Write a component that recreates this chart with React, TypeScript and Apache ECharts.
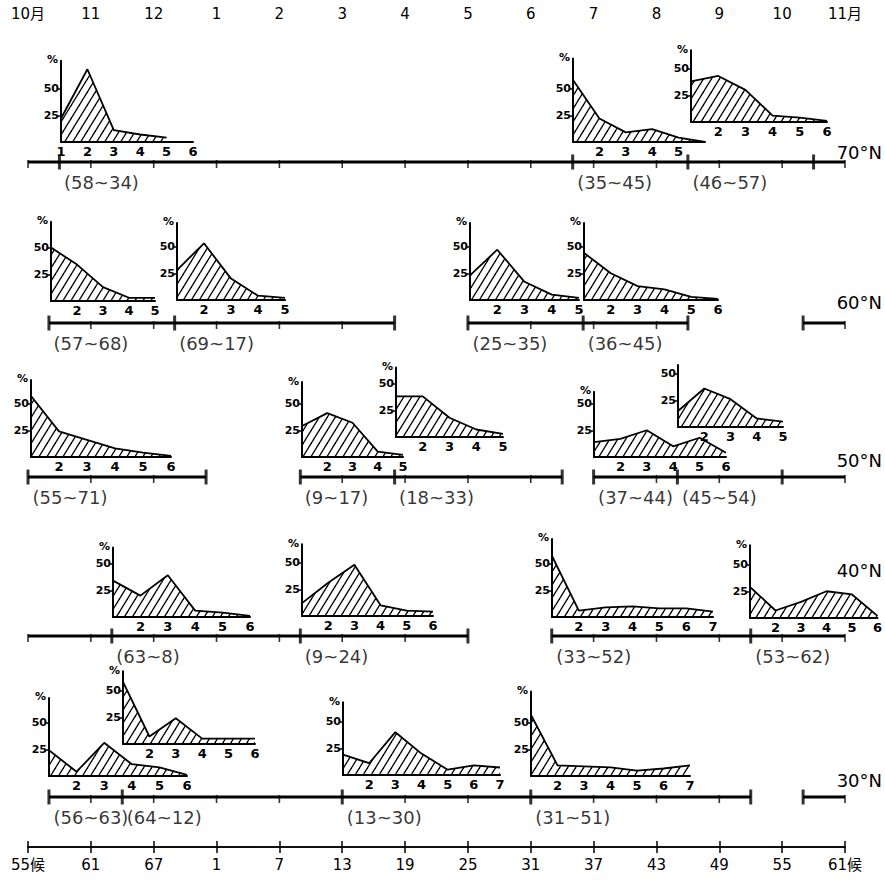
import React, { useEffect, useRef } from 'react';
import * as echarts from 'echarts';

// ---------- axis labels ----------
const monthLabels = ['10月', '11', '12', '1', '2', '3', '4', '5', '6', '7', '8', '9', '10', '11月'];
const pentadLabels = ['55候', '61', '67', '1', '7', '13', '19', '25', '31', '37', '43', '49', '55', '61候'];
const axisMin = 55;
const axisMax = 133;
const pentadStep = 6;

// ---------- timelines (continuous pentad index; next-year pentads are +72) ----------
const lat70Lines = [[55, 133]];
const lat70Brackets = [58, 107, 118, 130];
const lat70Ranges: [number, string][] = [[58, '(58~34)'], [107, '(35~45)'], [118, '(46~57)']];

const lat60Lines = [[57, 90], [97, 118], [129, 133]];
const lat60Brackets = [57, 69, 90, 97, 108, 118, 129];
const lat60Ranges: [number, string][] = [[57, '(57~68)'], [69, '(69~17)'], [97, '(25~35)'], [108, '(36~45)']];

const lat50Lines = [[55, 72], [81, 106], [109, 133]];
const lat50Brackets = [55, 72, 81, 90, 106, 109, 117, 127];
const lat50Ranges: [number, string][] = [[55, '(55~71)'], [81, '(9~17)'], [90, '(18~33)'], [109, '(37~44)'], [117, '(45~54)']];

const lat40Lines = [[55, 97], [105, 133]];
const lat40Brackets = [63, 81, 97, 105, 124];
const lat40Ranges: [number, string][] = [[63, '(63~8)'], [81, '(9~24)'], [105, '(33~52)'], [124, '(53~62)']];

const lat30Lines = [[57, 124], [129, 133]];
const lat30Brackets = [57, 64, 85, 103, 124, 129];
const lat30Ranges: [number, string][] = [[57, '(56~63)'], [64, '(64~12)'], [85, '(13~30)'], [103, '(31~51)']];

const latNames = ['70°N', '60°N', '50°N', '40°N', '30°N'];

// ---------- frequency distributions (%) ----------
const f70_58_34 = [22, 68, 11, 7, 4];
const f70_35_45 = [58, 22, 9, 12, 4, 0];
const f70_46_57 = [38, 43, 30, 6, 4, 1];
const f60_57_68 = [50, 34, 13, 3, 3];
const f60_69_17 = [28, 53, 20, 4, 2];
const f60_25_35 = [23, 47, 17, 5, 2];
const f60_36_45 = [44, 25, 13, 10, 3, 1];
const f50_55_71 = [57, 24, 16, 8, 4, 1];
const f50_9_17 = [29, 41, 32, 5, 2];
const f50_18_33 = [38, 38, 18, 7, 3];
const f50_37_44 = [14, 17, 25, 10, 18, 4];
const f50_45_54 = [15, 36, 26, 8, 5];
const f40_63_8 = [34, 20, 39, 6, 4, 1];
const f40_9_24 = [12, 31, 48, 10, 5, 4];
const f40_33_52 = [57, 6, 9, 10, 8, 8, 5];
const f40_53_62 = [29, 7, 15, 25, 22, 2];
const f30_56_63 = [24, 4, 31, 11, 8, 1];
const f30_64_12 = [58, 7, 24, 5, 5, 5];
const f30_13_30 = [19, 11, 40, 20, 5, 9, 7];
const f30_31_51 = [57, 10, 9, 8, 5, 7, 10];

const xl6all = ['1', '2', '3', '4', '5', '6'];
const xl5 = ['', '2', '3', '4', '5'];
const xl6 = ['', '2', '3', '4', '5', '6'];
const xl6b = ['', '2', '3', '4', '5', ''];
const xl7 = ['', '2', '3', '4', '5', '6', '7'];

const small = [
  { d: f70_58_34, l: xl6all, pct: true },
  { d: f70_35_45, l: xl6b, pct: true },
  { d: f70_46_57, l: xl6, pct: true },
  { d: f60_57_68, l: xl5, pct: true },
  { d: f60_69_17, l: xl5, pct: true },
  { d: f60_25_35, l: xl5, pct: true },
  { d: f60_36_45, l: xl6, pct: true },
  { d: f50_55_71, l: xl6, pct: true },
  { d: f50_9_17, l: xl5, pct: true },
  { d: f50_18_33, l: xl5, pct: true },
  { d: f50_37_44, l: xl6, pct: true },
  { d: f50_45_54, l: xl5, pct: false },
  { d: f40_63_8, l: xl6, pct: true },
  { d: f40_9_24, l: xl6, pct: true },
  { d: f40_33_52, l: xl7, pct: true },
  { d: f40_53_62, l: xl6, pct: true },
  { d: f30_56_63, l: xl6, pct: true },
  { d: f30_64_12, l: xl6, pct: true },
  { d: f30_13_30, l: xl7, pct: true },
  { d: f30_31_51, l: xl7, pct: true },
];

// layout (axis origin x, baseline y, width, y max)
const boxes = [
  [61, 142, 132, 76], [573, 142, 132, 78], [691, 122, 136, 67],
  [51, 301, 104, 74], [177, 300, 108, 72], [470, 300, 109, 72], [584, 300, 134, 72],
  [31, 457, 140, 72], [302, 457, 101, 70], [396, 437, 107, 65], [594, 457, 132, 61], [678, 427, 105, 58],
  [113, 617, 137, 65], [302, 616, 131, 67], [552, 617, 161, 73], [750, 618, 132, 68],
  [49, 776, 138, 73], [123, 744, 132, 68], [343, 775, 157, 68], [531, 776, 159, 79],
];
const pxPerPct = 1.07;
const rowY = [162, 323, 477, 636, 797];
const latTop = [143, 293, 451, 561, 771];

const FONT = '"DejaVu Sans", "Noto Sans CJK SC", sans-serif';

export default function App() {
  const ref = useRef<HTMLDivElement>(null);
  useEffect(() => {
    if (!ref.current) return;
    const chart = echarts.init(ref.current, null, { renderer: 'svg' });

    const cv = document.createElement('canvas');
    cv.width = 8;
    cv.height = 13;
    const g = cv.getContext('2d')!;
    g.strokeStyle = '#000';
    g.lineWidth = 1.3;
    for (const dx of [-8, 0, 8]) {
      g.beginPath();
      g.moveTo(-8 + dx, 26);
      g.lineTo(16 + dx, -13);
      g.stroke();
    }
    const hatch: any = { image: cv, repeat: 'repeat' };

    const grids: any[] = [];
    const xAxes: any[] = [];
    const yAxes: any[] = [];
    const series: any[] = [];

    const tickVals = pentadLabels.map((_, i) => axisMin + pentadStep * i);

    // master grid with top (months) and bottom (pentads) axes
    grids.push({ left: 28, top: 27, width: 817, height: 820 });
    xAxes.push({
      type: 'value', gridIndex: 0, position: 'top', min: axisMin, max: axisMax,
      axisLine: { lineStyle: { color: '#000', width: 1.5 } },
      axisTick: { inside: true, length: 6, customValues: tickVals, lineStyle: { color: '#000', width: 1.5 } },
      axisLabel: { customValues: tickVals, margin: 6, fontSize: 15, color: '#000', fontFamily: FONT,
        formatter: (v: number) => monthLabels[Math.round((v - axisMin) / pentadStep)] },
      splitLine: { show: false },
    });
    xAxes.push({
      type: 'value', gridIndex: 0, position: 'bottom', min: axisMin, max: axisMax,
      axisLine: { lineStyle: { color: '#000', width: 1.5 } },
      axisTick: { inside: true, length: 6, customValues: tickVals, lineStyle: { color: '#000', width: 1.5 } },
      axisLabel: { customValues: tickVals, margin: 10, fontSize: 15, color: '#000', fontFamily: FONT,
        formatter: (v: number) => pentadLabels[Math.round((v - axisMin) / pentadStep)] },
      splitLine: { show: false },
    });
    yAxes.push({ type: 'value', gridIndex: 0, min: 0, max: 1, show: false });

    // timelines
    const rows = [
      [lat70Lines, lat70Brackets, lat70Ranges],
      [lat60Lines, lat60Brackets, lat60Ranges],
      [lat50Lines, lat50Brackets, lat50Ranges],
      [lat40Lines, lat40Brackets, lat40Ranges],
      [lat30Lines, lat30Brackets, lat30Ranges],
    ] as [number[][], number[], [number, string][]][];

    rows.forEach(([lines, brackets, ranges], r) => {
      const gi = grids.length;
      grids.push({ left: 28, width: 817, top: rowY[r] - 10, height: 20 });
      xAxes.push({ type: 'value', gridIndex: gi, min: axisMin, max: axisMax, show: false });
      yAxes.push({ type: 'value', gridIndex: gi, min: 0, max: 1, show: false });
      const xi = xAxes.length - 1;
      const yi = yAxes.length - 1;
      lines.forEach(([a, b]) => {
        series.push({
          type: 'line', xAxisIndex: xi, yAxisIndex: yi, symbol: 'none', silent: true,
          data: [[a, 0.5], [b, 0.5]], lineStyle: { color: '#000', width: 3 },
        });
      });
      const smallTicks: number[][] = [];
      tickVals.forEach((t) => {
        const inLine = lines.some(([a, b]) => t >= a && t <= b);
        if (inLine && !brackets.includes(t)) smallTicks.push([t, 0.5]);
      });
      series.push({
        type: 'scatter', xAxisIndex: xi, yAxisIndex: yi, silent: true,
        symbol: 'rect', symbolSize: [1.6, 8], symbolOffset: [0, 2],
        itemStyle: { color: '#000' }, data: smallTicks,
      });
      series.push({
        type: 'scatter', xAxisIndex: xi, yAxisIndex: yi, silent: true,
        symbol: 'rect', symbolSize: [3, 15],
        itemStyle: { color: '#000' }, data: brackets.map((b) => [b, 0.5]),
      });
      series.push({
        type: 'scatter', xAxisIndex: xi, yAxisIndex: yi, silent: true,
        symbolSize: 1, itemStyle: { color: 'rgba(0,0,0,0)' },
        data: ranges.map(([p, t]) => [p, 0.5, t]),
        label: {
          show: true, position: [5, 12], fontSize: 18, color: '#000', fontFamily: FONT,
          formatter: (p: any) => p.value[2],
        },
      });
    });

    // small frequency charts
    small.forEach((c, i) => {
      const [x0, y0, w, ymax] = boxes[i];
      const h = ymax * pxPerPct;
      const gi = grids.length;
      grids.push({ left: x0, top: y0 - h, width: w, height: h });
      xAxes.push({
        type: 'category', gridIndex: gi, boundaryGap: false,
        data: c.l.map((_, k) => String(k + 1)),
        axisLine: { lineStyle: { color: '#000', width: 2 } },
        axisTick: { show: false },
        axisLabel: {
          interval: 0, margin: 3, fontSize: 13, fontWeight: 'bold', color: '#000', fontFamily: FONT,
          formatter: (_v: string, idx: number) => c.l[idx] ?? '',
        },
      });
      yAxes.push({
        type: 'value', gridIndex: gi, min: 0, max: ymax,
        name: c.pct ? '%' : '', nameLocation: 'end', nameGap: 1,
        nameTextStyle: { fontSize: 11, fontWeight: 'bold', color: '#000', align: 'right', verticalAlign: 'middle', padding: [0, 3, 0, 0], fontFamily: FONT },
        axisLine: { show: true, lineStyle: { color: '#000', width: 2 } },
        axisTick: { show: true, length: 3, customValues: [25, 50], lineStyle: { color: '#000', width: 1.5 } },
        axisLabel: { customValues: [25, 50], margin: 2, fontSize: 11, fontWeight: 'bold', color: '#000', fontFamily: FONT },
        splitLine: { show: false },
      });
      series.push({
        type: 'line', xAxisIndex: xAxes.length - 1, yAxisIndex: yAxes.length - 1,
        data: c.d, symbol: 'none', silent: true,
        lineStyle: { color: '#000', width: 1.8 },
        areaStyle: { color: hatch, opacity: 1 },
      });
    });

    chart.setOption({
      animation: false,
      backgroundColor: '#fff',
      textStyle: { fontFamily: FONT },
      grid: grids,
      xAxis: xAxes,
      yAxis: yAxes,
      series,
      graphic: latNames.map((t, i) => ({
        type: 'text', right: 3, top: latTop[i],
        style: { text: t, fontSize: 18, fill: '#000', fontFamily: FONT },
      })),
    });
    return () => chart.dispose();
  }, []);
  return <div ref={ref} style={{ position: 'absolute', left: 0, top: 0, width: 885, height: 885 }} />;
}
